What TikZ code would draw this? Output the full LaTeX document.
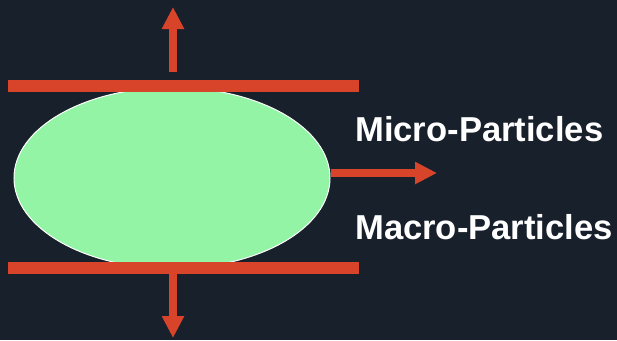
\documentclass[tikz,border=0pt]{standalone}
\usepackage{fontspec}
\setmainfont{Liberation Sans}
\usetikzlibrary{arrows.meta,shapes.geometric}
\definecolor{bgnavy}{RGB}{24,32,44}
\definecolor{blobgreen}{RGB}{146,244,164}
\definecolor{arrowred}{RGB}{216,68,42}
\tikzset{
  blob/.style={ellipse, fill=blobgreen, draw=white, line width=1pt,
    minimum width=316pt, minimum height=181pt, inner sep=0pt},
  plate/.style={draw=arrowred, line width=11.5pt},
  push/.style={draw=arrowred, line width=8pt,
    -{Triangle[length=22pt,width=21pt]}},
  label/.style={text=white, font=\bfseries\fontsize{34.6}{40}\selectfont,
    anchor=base west, inner sep=0pt}
}
\begin{document}
\begin{tikzpicture}[x=1pt,y=-1pt]
  % background
  \fill[bgnavy] (0,0) rectangle (617,340);
  \useasboundingbox (0,0) rectangle (617,340);

  % the squeezed body
  \node[blob] (body) at (172,178) {};

  % upper and lower plates
  \coordinate (topL) at (8,86);
  \coordinate (topR) at (359,86);
  \coordinate (botL) at (8,268);
  \coordinate (botR) at (359,268);
  \draw[plate] (topL) -- (topR);
  \draw[plate] (botL) -- (botR);

  % outward arrows
  \coordinate (upS) at (173,72);
  \coordinate (upE) at (173,7);
  \coordinate (dnS) at (173,273);
  \coordinate (dnE) at (173,338);
  \coordinate (rtE) at (437,173);
  \draw[push] (upS) -- (upE);
  \draw[push] (dnS) -- (dnE);
  \draw[push] (body.east |- rtE) -- (rtE);

  % labels
  \node[label] (micro) at (355,141) {Micro-Particles};
  \node[label] (macro) at (355,239) {Macro-Particles};
\end{tikzpicture}
\end{document}
